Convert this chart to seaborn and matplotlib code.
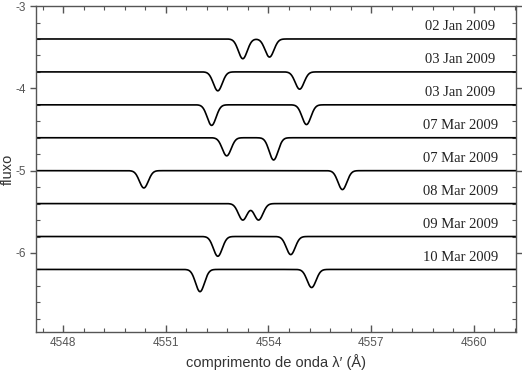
import numpy as np
import pandas as pd
import matplotlib
matplotlib.use("Agg")
import matplotlib.pyplot as plt
import seaborn as sns
from matplotlib.ticker import MultipleLocator

# --- Data ---
dates = ["02 Jan 2009", "03 Jan 2009", "03 Jan 2009", "07 Mar 2009",
         "07 Mar 2009", "08 Mar 2009", "09 Mar 2009", "10 Mar 2009"]
offsets = [-3.4, -3.8, -4.2, -4.6, -5.0, -5.4, -5.8, -6.2]
line1_center = [4553.25, 4552.52, 4552.34, 4552.78, 4550.36, 4553.25, 4552.52, 4552.00]
line2_center = [4554.03, 4554.91, 4555.11, 4554.15, 4556.16, 4553.71, 4554.65, 4555.26]
line1_depth = [0.24, 0.23, 0.25, 0.22, 0.21, 0.20, 0.24, 0.27]
line2_depth = [0.22, 0.21, 0.24, 0.27, 0.23, 0.20, 0.22, 0.22]
line_sigma = 0.13

x_min, x_max = 4547.21, 4561.23
y_min, y_max = -6.96, -3.0

# --- Build spectra (Gaussian absorption profiles on flat continuum) ---
lam = np.linspace(x_min, x_max, 1500)
rows = []
for i, off in enumerate(offsets):
    flux = (off
            - line1_depth[i] * np.exp(-(lam - line1_center[i]) ** 2 / (2 * line_sigma ** 2))
            - line2_depth[i] * np.exp(-(lam - line2_center[i]) ** 2 / (2 * line_sigma ** 2)))
    rows.append(pd.DataFrame({"lam": lam, "flux": flux, "spec": i}))
df = pd.concat(rows, ignore_index=True)

# --- Plot ---
sns.set_style("ticks")
plt.rcParams["font.family"] = ["Liberation Sans", "DejaVu Sans"]
plt.rcParams["axes.unicode_minus"] = False

fig = plt.figure(figsize=(5.22, 3.78), dpi=100)
ax = fig.add_axes([0.069, 0.1217, 0.9195, 0.8623])

sns.lineplot(data=df, x="lam", y="flux", units="spec", estimator=None,
             color="black", linewidth=1.2, ax=ax, legend=False)

for i, d in enumerate(dates):
    ax.text(4559.6, offsets[i] + 0.15, d, ha="center", va="center",
            fontsize=10.5, family=["Liberation Serif", "DejaVu Serif"], color="#222222")

ax.set_xlim(x_min, x_max)
ax.set_ylim(y_min, y_max)
ax.xaxis.set_major_locator(MultipleLocator(3))
ax.xaxis.set_minor_locator(MultipleLocator(0.6))
ax.yaxis.set_major_locator(MultipleLocator(1))
ax.yaxis.set_minor_locator(MultipleLocator(0.2))

ax.set_xlabel("comprimento de onda λ′ (Å)", fontsize=10.5, color="#333333", labelpad=4)
ax.set_ylabel("fluxo", fontsize=10.5, color="#333333")
ax.yaxis.set_label_coords(-0.044, 0.5)

for s in ax.spines.values():
    s.set_color("#555555")
    s.set_linewidth(1.0)
    s.set_visible(True)

ax.tick_params(which="both", direction="in", top=True, right=True,
               color="#555555", labelcolor="#555555", labelsize=8.5)
ax.tick_params(which="major", length=5, width=1)
ax.tick_params(which="minor", length=3, width=0.8)
ax.tick_params(axis="y", which="major", direction="out", length=4)

fig.savefig("out.png", dpi=100)
